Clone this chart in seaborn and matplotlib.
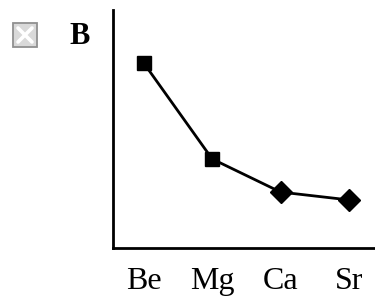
import matplotlib
matplotlib.use("Agg")
import matplotlib.pyplot as plt
import seaborn as sns
import pandas as pd
from matplotlib.patches import Rectangle
from matplotlib.lines import Line2D

elements = ["Be", "Mg", "Ca", "Sr"]
values = [0.777, 0.374, 0.235, 0.202]
markers = ["s", "s", "D", "D"]

sns.set_style("white")
plt.rcParams['font.family'] = ['Liberation Serif', 'DejaVu Serif']
plt.rcParams['text.color'] = 'black'
plt.rcParams['xtick.color'] = 'black'

df = pd.DataFrame({"pos": range(len(elements)), "val": values, "el": elements})

fig = plt.figure(figsize=(3.75, 3.02), dpi=100)
ax = fig.add_axes([113/375, 1-248/302, (375-113)/375, (248-10)/302])
sns.lineplot(data=df, x="pos", y="val", ax=ax, color="black", linewidth=2.0)
for p, v, m in zip(df["pos"], df["val"], markers):
    ax.plot(p, v, marker=m, color="black", markersize=9.5 if m == "s" else 11, linestyle="none")
ax.set_xlim(-0.45, 3.38)
ax.set_ylim(0, 1)
ax.set_xticks(range(len(elements)))
ax.set_xticklabels(elements, fontsize=23, color="black")
ax.set_yticks([])
ax.set_xlabel("")
ax.set_ylabel("")
ax.tick_params(axis="x", length=0, pad=14)
for s in ["top", "right"]:
    ax.spines[s].set_visible(False)
for s in ["left", "bottom"]:
    ax.spines[s].set_color("black")
    ax.spines[s].set_linewidth(2.0)

# icon box with X
W, H = 375, 302
x0, y0, sz = 13, 23, 24
fig.patches.append(Rectangle((x0/W, 1-(y0+sz)/H), sz/W, sz/H, transform=fig.transFigure,
                             facecolor="#d9d9d9", edgecolor="#909090", linewidth=1.3))
m = 5
fig.lines.append(Line2D([(x0+m)/W, (x0+sz-m)/W], [1-(y0+m)/H, 1-(y0+sz-m)/H],
                        transform=fig.transFigure, color="white", linewidth=2.6))
fig.lines.append(Line2D([(x0+m)/W, (x0+sz-m)/W], [1-(y0+sz-m)/H, 1-(y0+m)/H],
                        transform=fig.transFigure, color="white", linewidth=2.6))
fig.text(69/W, 1-37/H, "B", fontsize=22, fontweight="bold", va="center", ha="left", color="black")

fig.savefig("out.png", dpi=100)
